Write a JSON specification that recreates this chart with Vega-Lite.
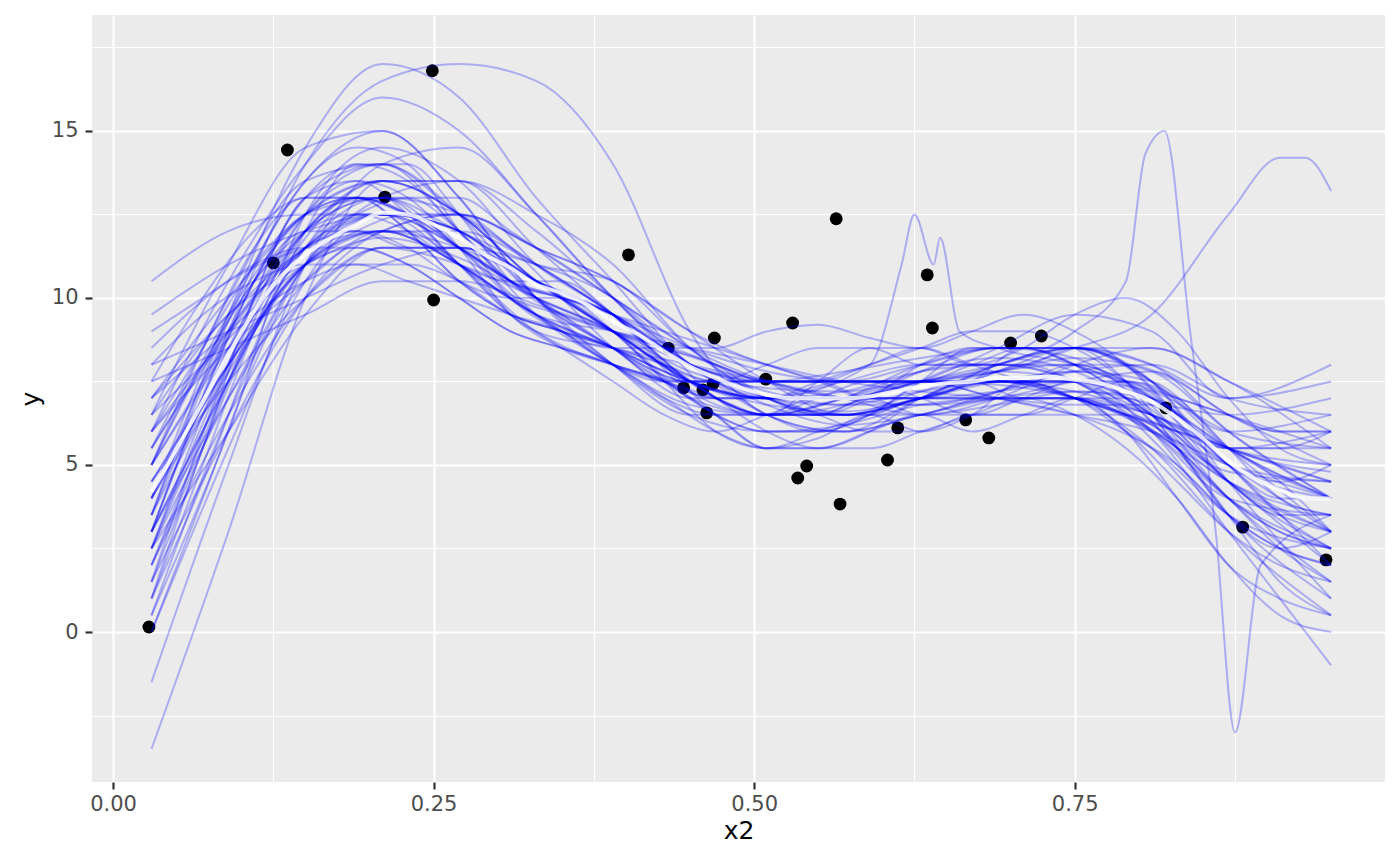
{
  "$schema": "https://vega.github.io/schema/vega-lite/v6.json",
  "width": 1293,
  "height": 767,
  "autosize": "none",
  "padding": {"left": 92, "top": 15, "right": 15, "bottom": 84},
  "background": "white",
  "config": {
    "view": {"fill": "#EBEBEB", "stroke": null},
    "font": "DejaVu Sans",
    "axis": {
      "domain": false,
      "gridColor": "white",
      "tickColor": "#333333",
      "tickSize": 7,
      "tickWidth": 2.2,
      "labelColor": "#4D4D4D",
      "labelFontSize": 21,
      "labelFont": "DejaVu Sans",
      "labelOverlap": false,
      "titleFont": "DejaVu Sans",
      "titleFontSize": 25,
      "titleFontWeight": "normal",
      "titleColor": "black"
    }
  },
  "datasets": {
    "draws": [
      {"d":1,"x":0.03,"y":2.0},{"d":1,"x":0.09,"y":7.5},{"d":1,"x":0.15,"y":11.8},{"d":1,"x":0.21,"y":13.5},{"d":1,"x":0.27,"y":12.5},{"d":1,"x":0.33,"y":10.5},{"d":1,"x":0.39,"y":9.0},{"d":1,"x":0.45,"y":7.5},{"d":1,"x":0.51,"y":6.8},{"d":1,"x":0.57,"y":6.6},{"d":1,"x":0.63,"y":7.0},{"d":1,"x":0.69,"y":7.5},{"d":1,"x":0.75,"y":7.8},{"d":1,"x":0.81,"y":7.0},{"d":1,"x":0.87,"y":4.5},{"d":1,"x":0.95,"y":2.5},
      {"d":2,"x":0.03,"y":6.5},{"d":2,"x":0.09,"y":9.5},{"d":2,"x":0.15,"y":11.0},{"d":2,"x":0.21,"y":11.8},{"d":2,"x":0.27,"y":11.2},{"d":2,"x":0.33,"y":10.0},{"d":2,"x":0.39,"y":9.0},{"d":2,"x":0.45,"y":7.8},{"d":2,"x":0.51,"y":7.3},{"d":2,"x":0.57,"y":7.2},{"d":2,"x":0.63,"y":7.5},{"d":2,"x":0.69,"y":7.4},{"d":2,"x":0.75,"y":7.0},{"d":2,"x":0.81,"y":6.2},{"d":2,"x":0.87,"y":4.8},{"d":2,"x":0.95,"y":4.5},
      {"d":3,"x":0.03,"y":0.5},{"d":3,"x":0.09,"y":6.0},{"d":3,"x":0.15,"y":12.5},{"d":3,"x":0.21,"y":14.5},{"d":3,"x":0.27,"y":13.5},{"d":3,"x":0.33,"y":11.0},{"d":3,"x":0.39,"y":9.5},{"d":3,"x":0.45,"y":7.2},{"d":3,"x":0.51,"y":6.5},{"d":3,"x":0.57,"y":6.8},{"d":3,"x":0.63,"y":7.8},{"d":3,"x":0.69,"y":8.5},{"d":3,"x":0.75,"y":8.2},{"d":3,"x":0.81,"y":6.5},{"d":3,"x":0.87,"y":3.5},{"d":3,"x":0.95,"y":1.0},
      {"d":4,"x":0.03,"y":8.5},{"d":4,"x":0.09,"y":10.5},{"d":4,"x":0.15,"y":11.5},{"d":4,"x":0.21,"y":12.0},{"d":4,"x":0.27,"y":11.5},{"d":4,"x":0.33,"y":10.5},{"d":4,"x":0.39,"y":9.5},{"d":4,"x":0.45,"y":8.0},{"d":4,"x":0.51,"y":7.5},{"d":4,"x":0.57,"y":7.0},{"d":4,"x":0.63,"y":7.0},{"d":4,"x":0.69,"y":7.2},{"d":4,"x":0.75,"y":7.5},{"d":4,"x":0.81,"y":7.2},{"d":4,"x":0.87,"y":6.0},{"d":4,"x":0.95,"y":5.5},
      {"d":5,"x":0.03,"y":-1.5},{"d":5,"x":0.09,"y":5.0},{"d":5,"x":0.15,"y":11.0},{"d":5,"x":0.21,"y":14.0},{"d":5,"x":0.27,"y":14.5},{"d":5,"x":0.33,"y":12.5},{"d":5,"x":0.39,"y":10.0},{"d":5,"x":0.45,"y":8.0},{"d":5,"x":0.51,"y":6.8},{"d":5,"x":0.57,"y":6.2},{"d":5,"x":0.63,"y":6.5},{"d":5,"x":0.69,"y":7.2},{"d":5,"x":0.75,"y":7.8},{"d":5,"x":0.81,"y":7.5},{"d":5,"x":0.87,"y":5.5},{"d":5,"x":0.95,"y":3.0},
      {"d":6,"x":0.03,"y":4.0},{"d":6,"x":0.09,"y":9.5},{"d":6,"x":0.15,"y":13.5},{"d":6,"x":0.21,"y":15.0},{"d":6,"x":0.27,"y":13.0},{"d":6,"x":0.33,"y":10.0},{"d":6,"x":0.39,"y":8.5},{"d":6,"x":0.45,"y":7.0},{"d":6,"x":0.51,"y":7.0},{"d":6,"x":0.57,"y":7.5},{"d":6,"x":0.63,"y":8.0},{"d":6,"x":0.69,"y":8.0},{"d":6,"x":0.75,"y":7.5},{"d":6,"x":0.81,"y":6.0},{"d":6,"x":0.87,"y":4.0},{"d":6,"x":0.95,"y":3.5},
      {"d":7,"x":0.03,"y":3.0},{"d":7,"x":0.09,"y":7.0},{"d":7,"x":0.15,"y":10.5},{"d":7,"x":0.21,"y":12.0},{"d":7,"x":0.27,"y":12.5},{"d":7,"x":0.33,"y":11.5},{"d":7,"x":0.39,"y":10.0},{"d":7,"x":0.45,"y":8.5},{"d":7,"x":0.51,"y":7.5},{"d":7,"x":0.57,"y":7.0},{"d":7,"x":0.63,"y":6.8},{"d":7,"x":0.69,"y":7.0},{"d":7,"x":0.75,"y":7.5},{"d":7,"x":0.81,"y":7.8},{"d":7,"x":0.87,"y":6.5},{"d":7,"x":0.95,"y":5.0},
      {"d":8,"x":0.03,"y":7.5},{"d":8,"x":0.09,"y":8.5},{"d":8,"x":0.15,"y":9.5},{"d":8,"x":0.21,"y":10.5},{"d":8,"x":0.27,"y":10.5},{"d":8,"x":0.33,"y":9.8},{"d":8,"x":0.39,"y":9.0},{"d":8,"x":0.45,"y":8.0},{"d":8,"x":0.51,"y":7.2},{"d":8,"x":0.57,"y":6.8},{"d":8,"x":0.63,"y":6.8},{"d":8,"x":0.69,"y":7.2},{"d":8,"x":0.75,"y":7.8},{"d":8,"x":0.81,"y":8.0},{"d":8,"x":0.87,"y":7.0},{"d":8,"x":0.95,"y":6.5},
      {"d":9,"x":0.03,"y":1.5},{"d":9,"x":0.09,"y":8.0},{"d":9,"x":0.15,"y":13.0},{"d":9,"x":0.21,"y":14.0},{"d":9,"x":0.27,"y":12.0},{"d":9,"x":0.33,"y":9.5},{"d":9,"x":0.39,"y":8.0},{"d":9,"x":0.45,"y":6.8},{"d":9,"x":0.51,"y":6.5},{"d":9,"x":0.57,"y":7.0},{"d":9,"x":0.63,"y":7.8},{"d":9,"x":0.69,"y":8.2},{"d":9,"x":0.75,"y":7.8},{"d":9,"x":0.81,"y":6.5},{"d":9,"x":0.87,"y":4.5},{"d":9,"x":0.95,"y":2.0},
      {"d":10,"x":0.03,"y":5.5},{"d":10,"x":0.09,"y":9.0},{"d":10,"x":0.15,"y":12.0},{"d":10,"x":0.21,"y":13.0},{"d":10,"x":0.27,"y":12.0},{"d":10,"x":0.33,"y":11.0},{"d":10,"x":0.39,"y":10.5},{"d":10,"x":0.45,"y":8.5},{"d":10,"x":0.51,"y":7.0},{"d":10,"x":0.57,"y":6.5},{"d":10,"x":0.63,"y":7.0},{"d":10,"x":0.69,"y":7.8},{"d":10,"x":0.75,"y":8.5},{"d":10,"x":0.81,"y":7.5},{"d":10,"x":0.87,"y":5.0},{"d":10,"x":0.95,"y":4.0},
      {"d":11,"x":0.03,"y":-3.5},{"d":11,"x":0.09,"y":3.0},{"d":11,"x":0.15,"y":10.0},{"d":11,"x":0.21,"y":13.5},{"d":11,"x":0.27,"y":13.5},{"d":11,"x":0.33,"y":11.5},{"d":11,"x":0.39,"y":9.5},{"d":11,"x":0.45,"y":7.5},{"d":11,"x":0.51,"y":6.5},{"d":11,"x":0.57,"y":6.5},{"d":11,"x":0.63,"y":7.0},{"d":11,"x":0.69,"y":7.5},{"d":11,"x":0.75,"y":7.5},{"d":11,"x":0.81,"y":6.5},{"d":11,"x":0.87,"y":4.0},{"d":11,"x":0.95,"y":1.5},
      {"d":12,"x":0.03,"y":9.5},{"d":12,"x":0.09,"y":11.0},{"d":12,"x":0.15,"y":12.0},{"d":12,"x":0.21,"y":12.5},{"d":12,"x":0.27,"y":11.5},{"d":12,"x":0.33,"y":10.0},{"d":12,"x":0.39,"y":8.5},{"d":12,"x":0.45,"y":7.5},{"d":12,"x":0.51,"y":7.5},{"d":12,"x":0.57,"y":7.5},{"d":12,"x":0.63,"y":7.5},{"d":12,"x":0.69,"y":7.5},{"d":12,"x":0.75,"y":7.2},{"d":12,"x":0.81,"y":6.5},{"d":12,"x":0.87,"y":5.5},{"d":12,"x":0.95,"y":5.0},
      {"d":13,"x":0.03,"y":3.5},{"d":13,"x":0.09,"y":9.0},{"d":13,"x":0.15,"y":12.5},{"d":13,"x":0.21,"y":13.0},{"d":13,"x":0.27,"y":11.0},{"d":13,"x":0.33,"y":9.0},{"d":13,"x":0.39,"y":8.5},{"d":13,"x":0.45,"y":8.0},{"d":13,"x":0.51,"y":7.5},{"d":13,"x":0.57,"y":7.0},{"d":13,"x":0.63,"y":6.5},{"d":13,"x":0.69,"y":6.8},{"d":13,"x":0.75,"y":7.2},{"d":13,"x":0.81,"y":6.8},{"d":13,"x":0.87,"y":5.5},{"d":13,"x":0.95,"y":4.8},
      {"d":14,"x":0.03,"y":2.5},{"d":14,"x":0.09,"y":7.0},{"d":14,"x":0.15,"y":11.0},{"d":14,"x":0.21,"y":13.0},{"d":14,"x":0.27,"y":13.5},{"d":14,"x":0.33,"y":12.5},{"d":14,"x":0.39,"y":11.0},{"d":14,"x":0.45,"y":8.5},{"d":14,"x":0.51,"y":7.0},{"d":14,"x":0.57,"y":6.5},{"d":14,"x":0.63,"y":7.0},{"d":14,"x":0.69,"y":7.5},{"d":14,"x":0.75,"y":7.5},{"d":14,"x":0.81,"y":6.5},{"d":14,"x":0.87,"y":4.5},{"d":14,"x":0.95,"y":3.0},
      {"d":15,"x":0.03,"y":6.0},{"d":15,"x":0.09,"y":10.5},{"d":15,"x":0.15,"y":14.0},{"d":15,"x":0.21,"y":16.0},{"d":15,"x":0.27,"y":15.0},{"d":15,"x":0.33,"y":12.5},{"d":15,"x":0.39,"y":10.0},{"d":15,"x":0.45,"y":8.0},{"d":15,"x":0.51,"y":7.5},{"d":15,"x":0.57,"y":7.5},{"d":15,"x":0.63,"y":8.0},{"d":15,"x":0.69,"y":8.5},{"d":15,"x":0.75,"y":8.5},{"d":15,"x":0.81,"y":7.5},{"d":15,"x":0.87,"y":6.0},{"d":15,"x":0.95,"y":6.5},
      {"d":16,"x":0.03,"y":0.0},{"d":16,"x":0.09,"y":5.5},{"d":16,"x":0.15,"y":10.5},{"d":16,"x":0.21,"y":12.5},{"d":16,"x":0.27,"y":12.0},{"d":16,"x":0.33,"y":10.5},{"d":16,"x":0.39,"y":9.5},{"d":16,"x":0.45,"y":8.0},{"d":16,"x":0.51,"y":7.0},{"d":16,"x":0.57,"y":6.8},{"d":16,"x":0.63,"y":7.2},{"d":16,"x":0.69,"y":7.5},{"d":16,"x":0.75,"y":7.0},{"d":16,"x":0.81,"y":5.5},{"d":16,"x":0.87,"y":3.0},{"d":16,"x":0.95,"y":0.5},
      {"d":17,"x":0.03,"y":4.5},{"d":17,"x":0.09,"y":8.0},{"d":17,"x":0.15,"y":11.0},{"d":17,"x":0.21,"y":12.5},{"d":17,"x":0.27,"y":12.0},{"d":17,"x":0.33,"y":10.0},{"d":17,"x":0.39,"y":8.0},{"d":17,"x":0.45,"y":6.5},{"d":17,"x":0.51,"y":6.0},{"d":17,"x":0.57,"y":6.2},{"d":17,"x":0.63,"y":6.8},{"d":17,"x":0.69,"y":7.0},{"d":17,"x":0.75,"y":7.0},{"d":17,"x":0.81,"y":6.5},{"d":17,"x":0.87,"y":5.5},{"d":17,"x":0.95,"y":4.5},
      {"d":18,"x":0.03,"y":7.0},{"d":18,"x":0.09,"y":9.5},{"d":18,"x":0.15,"y":11.5},{"d":18,"x":0.21,"y":12.5},{"d":18,"x":0.27,"y":12.5},{"d":18,"x":0.33,"y":11.5},{"d":18,"x":0.39,"y":10.5},{"d":18,"x":0.45,"y":9.0},{"d":18,"x":0.51,"y":8.0},{"d":18,"x":0.57,"y":7.5},{"d":18,"x":0.63,"y":7.5},{"d":18,"x":0.69,"y":7.8},{"d":18,"x":0.75,"y":8.2},{"d":18,"x":0.81,"y":7.8},{"d":18,"x":0.87,"y":6.0},{"d":18,"x":0.95,"y":4.0},
      {"d":19,"x":0.03,"y":2.0},{"d":19,"x":0.09,"y":6.5},{"d":19,"x":0.15,"y":10.0},{"d":19,"x":0.21,"y":11.5},{"d":19,"x":0.27,"y":11.0},{"d":19,"x":0.33,"y":10.0},{"d":19,"x":0.39,"y":9.0},{"d":19,"x":0.45,"y":7.5},{"d":19,"x":0.51,"y":7.0},{"d":19,"x":0.57,"y":7.2},{"d":19,"x":0.63,"y":7.8},{"d":19,"x":0.69,"y":8.0},{"d":19,"x":0.75,"y":7.5},{"d":19,"x":0.81,"y":6.2},{"d":19,"x":0.87,"y":4.5},{"d":19,"x":0.95,"y":3.5},
      {"d":20,"x":0.03,"y":5.0},{"d":20,"x":0.09,"y":10.0},{"d":20,"x":0.15,"y":13.5},{"d":20,"x":0.21,"y":14.0},{"d":20,"x":0.27,"y":12.5},{"d":20,"x":0.33,"y":11.0},{"d":20,"x":0.39,"y":9.5},{"d":20,"x":0.45,"y":7.5},{"d":20,"x":0.51,"y":6.5},{"d":20,"x":0.57,"y":6.5},{"d":20,"x":0.63,"y":7.2},{"d":20,"x":0.69,"y":7.8},{"d":20,"x":0.75,"y":8.0},{"d":20,"x":0.81,"y":7.0},{"d":20,"x":0.87,"y":5.0},{"d":20,"x":0.95,"y":4.5},
      {"d":21,"x":0.03,"y":3.0},{"d":21,"x":0.09,"y":8.5},{"d":21,"x":0.15,"y":12.0},{"d":21,"x":0.21,"y":13.5},{"d":21,"x":0.27,"y":12.5},{"d":21,"x":0.33,"y":10.5},{"d":21,"x":0.39,"y":9.0},{"d":21,"x":0.45,"y":7.5},{"d":21,"x":0.51,"y":7.0},{"d":21,"x":0.57,"y":7.0},{"d":21,"x":0.63,"y":7.5},{"d":21,"x":0.69,"y":8.5},{"d":21,"x":0.75,"y":9.5},{"d":21,"x":0.81,"y":9.0},{"d":21,"x":0.87,"y":7.0},{"d":21,"x":0.95,"y":7.5},
      {"d":22,"x":0.03,"y":8.0},{"d":22,"x":0.09,"y":9.0},{"d":22,"x":0.15,"y":10.0},{"d":22,"x":0.21,"y":11.0},{"d":22,"x":0.27,"y":11.5},{"d":22,"x":0.33,"y":11.0},{"d":22,"x":0.39,"y":10.0},{"d":22,"x":0.45,"y":8.0},{"d":22,"x":0.51,"y":6.5},{"d":22,"x":0.57,"y":6.0},{"d":22,"x":0.63,"y":6.5},{"d":22,"x":0.69,"y":7.0},{"d":22,"x":0.75,"y":7.0},{"d":22,"x":0.81,"y":6.0},{"d":22,"x":0.87,"y":4.5},{"d":22,"x":0.95,"y":3.0},
      {"d":23,"x":0.03,"y":1.0},{"d":23,"x":0.09,"y":7.5},{"d":23,"x":0.15,"y":12.0},{"d":23,"x":0.21,"y":13.0},{"d":23,"x":0.27,"y":11.5},{"d":23,"x":0.33,"y":9.5},{"d":23,"x":0.39,"y":8.5},{"d":23,"x":0.45,"y":7.5},{"d":23,"x":0.51,"y":7.0},{"d":23,"x":0.57,"y":7.0},{"d":23,"x":0.63,"y":7.5},{"d":23,"x":0.69,"y":7.5},{"d":23,"x":0.75,"y":7.0},{"d":23,"x":0.81,"y":6.0},{"d":23,"x":0.87,"y":4.0},{"d":23,"x":0.95,"y":2.5},
      {"d":24,"x":0.03,"y":6.0},{"d":24,"x":0.09,"y":8.5},{"d":24,"x":0.15,"y":10.5},{"d":24,"x":0.21,"y":12.0},{"d":24,"x":0.27,"y":12.0},{"d":24,"x":0.33,"y":11.0},{"d":24,"x":0.39,"y":9.5},{"d":24,"x":0.45,"y":8.0},{"d":24,"x":0.51,"y":7.5},{"d":24,"x":0.57,"y":7.5},{"d":24,"x":0.63,"y":7.5},{"d":24,"x":0.69,"y":7.0},{"d":24,"x":0.75,"y":6.5},{"d":24,"x":0.81,"y":6.0},{"d":24,"x":0.87,"y":5.0},{"d":24,"x":0.95,"y":4.0},
      {"d":25,"x":0.03,"y":3.5},{"d":25,"x":0.09,"y":9.5},{"d":25,"x":0.15,"y":14.5},{"d":25,"x":0.21,"y":17.0},{"d":25,"x":0.27,"y":16.0},{"d":25,"x":0.33,"y":13.0},{"d":25,"x":0.39,"y":10.5},{"d":25,"x":0.45,"y":8.0},{"d":25,"x":0.51,"y":7.0},{"d":25,"x":0.57,"y":7.0},{"d":25,"x":0.63,"y":7.5},{"d":25,"x":0.69,"y":7.8},{"d":25,"x":0.75,"y":7.5},{"d":25,"x":0.81,"y":6.5},{"d":25,"x":0.87,"y":5.5},{"d":25,"x":0.95,"y":6.0},
      {"d":26,"x":0.03,"y":2.5},{"d":26,"x":0.09,"y":6.0},{"d":26,"x":0.15,"y":9.5},{"d":26,"x":0.21,"y":11.5},{"d":26,"x":0.27,"y":11.5},{"d":26,"x":0.33,"y":10.5},{"d":26,"x":0.39,"y":9.0},{"d":26,"x":0.45,"y":7.0},{"d":26,"x":0.51,"y":6.0},{"d":26,"x":0.57,"y":6.0},{"d":26,"x":0.63,"y":6.5},{"d":26,"x":0.69,"y":7.0},{"d":26,"x":0.75,"y":7.2},{"d":26,"x":0.81,"y":7.0},{"d":26,"x":0.87,"y":5.0},{"d":26,"x":0.95,"y":2.0},
      {"d":27,"x":0.03,"y":10.5},{"d":27,"x":0.09,"y":12.0},{"d":27,"x":0.15,"y":12.5},{"d":27,"x":0.21,"y":12.5},{"d":27,"x":0.27,"y":11.0},{"d":27,"x":0.33,"y":9.0},{"d":27,"x":0.39,"y":8.0},{"d":27,"x":0.45,"y":7.5},{"d":27,"x":0.51,"y":7.5},{"d":27,"x":0.57,"y":7.8},{"d":27,"x":0.63,"y":8.2},{"d":27,"x":0.69,"y":8.5},{"d":27,"x":0.75,"y":8.5},{"d":27,"x":0.81,"y":7.5},{"d":27,"x":0.87,"y":5.5},{"d":27,"x":0.95,"y":4.0},
      {"d":28,"x":0.03,"y":4.0},{"d":28,"x":0.09,"y":8.0},{"d":28,"x":0.15,"y":11.0},{"d":28,"x":0.21,"y":12.0},{"d":28,"x":0.27,"y":11.0},{"d":28,"x":0.33,"y":9.5},{"d":28,"x":0.39,"y":9.0},{"d":28,"x":0.45,"y":8.5},{"d":28,"x":0.51,"y":8.0},{"d":28,"x":0.57,"y":7.5},{"d":28,"x":0.63,"y":7.2},{"d":28,"x":0.69,"y":7.0},{"d":28,"x":0.75,"y":6.8},{"d":28,"x":0.81,"y":6.8},{"d":28,"x":0.87,"y":6.5},{"d":28,"x":0.95,"y":7.0},
      {"d":29,"x":0.03,"y":0.5},{"d":29,"x":0.09,"y":6.5},{"d":29,"x":0.15,"y":11.0},{"d":29,"x":0.21,"y":12.5},{"d":29,"x":0.27,"y":12.0},{"d":29,"x":0.33,"y":10.5},{"d":29,"x":0.39,"y":9.5},{"d":29,"x":0.45,"y":8.0},{"d":29,"x":0.51,"y":7.0},{"d":29,"x":0.57,"y":6.5},{"d":29,"x":0.63,"y":7.0},{"d":29,"x":0.69,"y":8.0},{"d":29,"x":0.75,"y":8.5},{"d":29,"x":0.81,"y":7.5},{"d":29,"x":0.87,"y":4.5},{"d":29,"x":0.95,"y":1.0},
      {"d":30,"x":0.03,"y":5.0},{"d":30,"x":0.09,"y":9.5},{"d":30,"x":0.15,"y":12.5},{"d":30,"x":0.21,"y":13.5},{"d":30,"x":0.27,"y":12.5},{"d":30,"x":0.33,"y":10.5},{"d":30,"x":0.39,"y":9.0},{"d":30,"x":0.45,"y":7.0},{"d":30,"x":0.51,"y":6.5},{"d":30,"x":0.57,"y":7.0},{"d":30,"x":0.63,"y":8.0},{"d":30,"x":0.69,"y":8.5},{"d":30,"x":0.75,"y":8.5},{"d":30,"x":0.81,"y":8.0},{"d":30,"x":0.87,"y":7.0},{"d":30,"x":0.95,"y":8.0},
      {"d":31,"x":0.03,"y":2.5},{"d":31,"x":0.09,"y":8.0},{"d":31,"x":0.15,"y":12.5},{"d":31,"x":0.21,"y":14.0},{"d":31,"x":0.27,"y":12.5},{"d":31,"x":0.33,"y":10.0},{"d":31,"x":0.39,"y":8.5},{"d":31,"x":0.45,"y":7.5},{"d":31,"x":0.51,"y":7.5},{"d":31,"x":0.57,"y":7.5},{"d":31,"x":0.63,"y":7.5},{"d":31,"x":0.69,"y":7.0},{"d":31,"x":0.75,"y":6.5},{"d":31,"x":0.81,"y":5.5},{"d":31,"x":0.87,"y":3.5},{"d":31,"x":0.95,"y":2.5},
      {"d":32,"x":0.03,"y":7.0},{"d":32,"x":0.09,"y":10.0},{"d":32,"x":0.15,"y":12.5},{"d":32,"x":0.21,"y":13.5},{"d":32,"x":0.27,"y":13.5},{"d":32,"x":0.33,"y":12.0},{"d":32,"x":0.39,"y":10.0},{"d":32,"x":0.45,"y":8.0},{"d":32,"x":0.51,"y":7.0},{"d":32,"x":0.57,"y":7.0},{"d":32,"x":0.63,"y":7.5},{"d":32,"x":0.69,"y":8.0},{"d":32,"x":0.75,"y":8.5},{"d":32,"x":0.81,"y":8.5},{"d":32,"x":0.87,"y":7.5},{"d":32,"x":0.95,"y":5.5},
      {"d":33,"x":0.03,"y":3.0},{"d":33,"x":0.09,"y":7.5},{"d":33,"x":0.15,"y":11.5},{"d":33,"x":0.21,"y":13.0},{"d":33,"x":0.27,"y":12.5},{"d":33,"x":0.33,"y":11.0},{"d":33,"x":0.39,"y":9.5},{"d":33,"x":0.45,"y":7.5},{"d":33,"x":0.51,"y":6.5},{"d":33,"x":0.57,"y":6.5},{"d":33,"x":0.63,"y":7.0},{"d":33,"x":0.69,"y":7.5},{"d":33,"x":0.75,"y":7.5},{"d":33,"x":0.81,"y":6.0},{"d":33,"x":0.87,"y":3.0},{"d":33,"x":0.95,"y":-1.0},
      {"d":34,"x":0.03,"y":4.5},{"d":34,"x":0.09,"y":7.5},{"d":34,"x":0.15,"y":10.0},{"d":34,"x":0.21,"y":11.5},{"d":34,"x":0.27,"y":11.5},{"d":34,"x":0.33,"y":10.5},{"d":34,"x":0.39,"y":9.5},{"d":34,"x":0.45,"y":8.5},{"d":34,"x":0.51,"y":7.8},{"d":34,"x":0.57,"y":7.5},{"d":34,"x":0.63,"y":7.5},{"d":34,"x":0.69,"y":7.5},{"d":34,"x":0.75,"y":7.5},{"d":34,"x":0.81,"y":7.0},{"d":34,"x":0.87,"y":5.5},{"d":34,"x":0.95,"y":4.0},
      {"d":35,"x":0.03,"y":6.5},{"d":35,"x":0.09,"y":11.0},{"d":35,"x":0.15,"y":14.5},{"d":35,"x":0.21,"y":15.0},{"d":35,"x":0.27,"y":13.0},{"d":35,"x":0.33,"y":10.0},{"d":35,"x":0.39,"y":8.0},{"d":35,"x":0.45,"y":6.5},{"d":35,"x":0.51,"y":6.5},{"d":35,"x":0.57,"y":7.0},{"d":35,"x":0.63,"y":7.5},{"d":35,"x":0.69,"y":7.5},{"d":35,"x":0.75,"y":7.0},{"d":35,"x":0.81,"y":6.5},{"d":35,"x":0.87,"y":5.5},{"d":35,"x":0.95,"y":5.5},
      {"d":36,"x":0.03,"y":1.5},{"d":36,"x":0.09,"y":6.0},{"d":36,"x":0.15,"y":10.0},{"d":36,"x":0.21,"y":12.0},{"d":36,"x":0.27,"y":12.5},{"d":36,"x":0.33,"y":11.5},{"d":36,"x":0.39,"y":10.5},{"d":36,"x":0.45,"y":9.0},{"d":36,"x":0.51,"y":7.5},{"d":36,"x":0.57,"y":6.5},{"d":36,"x":0.63,"y":6.5},{"d":36,"x":0.69,"y":7.0},{"d":36,"x":0.75,"y":8.0},{"d":36,"x":0.81,"y":8.5},{"d":36,"x":0.87,"y":7.5},{"d":36,"x":0.95,"y":6.0},
      {"d":37,"x":0.03,"y":7.0},{"d":37,"x":0.09,"y":9.0},{"d":37,"x":0.15,"y":11.0},{"d":37,"x":0.21,"y":12.0},{"d":37,"x":0.27,"y":11.0},{"d":37,"x":0.33,"y":9.5},{"d":37,"x":0.39,"y":8.5},{"d":37,"x":0.45,"y":7.5},{"d":37,"x":0.51,"y":7.0},{"d":37,"x":0.57,"y":7.5},{"d":37,"x":0.63,"y":7.5},{"d":37,"x":0.69,"y":8.0},{"d":37,"x":0.75,"y":9.0},{"d":37,"x":0.79,"y":10.5},{"d":37,"x":0.805,"y":14.3},{"d":37,"x":0.82,"y":15.0},{"d":37,"x":0.84,"y":9.0},{"d":37,"x":0.86,"y":3.0},{"d":37,"x":0.875,"y":-3.0},{"d":37,"x":0.895,"y":2.0},{"d":37,"x":0.95,"y":3.5},
      {"d":38,"x":0.03,"y":4.0},{"d":38,"x":0.09,"y":8.0},{"d":38,"x":0.15,"y":11.0},{"d":38,"x":0.21,"y":12.0},{"d":38,"x":0.27,"y":11.0},{"d":38,"x":0.33,"y":9.5},{"d":38,"x":0.39,"y":8.5},{"d":38,"x":0.45,"y":7.5},{"d":38,"x":0.51,"y":7.0},{"d":38,"x":0.59,"y":8.0},{"d":38,"x":0.615,"y":11.0},{"d":38,"x":0.625,"y":12.5},{"d":38,"x":0.64,"y":11.0},{"d":38,"x":0.645,"y":11.8},{"d":38,"x":0.66,"y":9.0},{"d":38,"x":0.69,"y":8.5},{"d":38,"x":0.75,"y":8.0},{"d":38,"x":0.81,"y":7.0},{"d":38,"x":0.87,"y":5.5},{"d":38,"x":0.95,"y":4.0},
      {"d":39,"x":0.03,"y":5.0},{"d":39,"x":0.09,"y":8.5},{"d":39,"x":0.15,"y":11.5},{"d":39,"x":0.21,"y":12.5},{"d":39,"x":0.27,"y":11.5},{"d":39,"x":0.33,"y":10.0},{"d":39,"x":0.39,"y":9.0},{"d":39,"x":0.45,"y":7.5},{"d":39,"x":0.51,"y":7.0},{"d":39,"x":0.57,"y":7.0},{"d":39,"x":0.63,"y":7.5},{"d":39,"x":0.69,"y":7.8},{"d":39,"x":0.75,"y":8.5},{"d":39,"x":0.81,"y":9.5},{"d":39,"x":0.87,"y":12.5},{"d":39,"x":0.91,"y":14.2},{"d":39,"x":0.93,"y":14.2},{"d":39,"x":0.95,"y":13.2},
      {"d":40,"x":0.03,"y":3.0},{"d":40,"x":0.09,"y":9.0},{"d":40,"x":0.15,"y":14.0},{"d":40,"x":0.21,"y":16.5},{"d":40,"x":0.27,"y":17.0},{"d":40,"x":0.33,"y":16.5},{"d":40,"x":0.39,"y":14.0},{"d":40,"x":0.45,"y":9.0},{"d":40,"x":0.51,"y":6.5},{"d":40,"x":0.57,"y":6.0},{"d":40,"x":0.63,"y":7.0},{"d":40,"x":0.69,"y":8.0},{"d":40,"x":0.75,"y":8.5},{"d":40,"x":0.81,"y":8.0},{"d":40,"x":0.87,"y":6.0},{"d":40,"x":0.95,"y":4.0},
      {"d":41,"x":0.03,"y":3.0},{"d":41,"x":0.07,"y":6.0},{"d":41,"x":0.11,"y":9.0},{"d":41,"x":0.15,"y":11.5},{"d":41,"x":0.19,"y":13.0},{"d":41,"x":0.23,"y":13.0},{"d":41,"x":0.27,"y":12.0},{"d":41,"x":0.31,"y":10.5},{"d":41,"x":0.35,"y":10.0},{"d":41,"x":0.39,"y":9.5},{"d":41,"x":0.43,"y":8.0},{"d":41,"x":0.47,"y":6.5},{"d":41,"x":0.51,"y":5.5},{"d":41,"x":0.55,"y":5.8},{"d":41,"x":0.59,"y":6.5},{"d":41,"x":0.63,"y":6.0},{"d":41,"x":0.67,"y":6.5},{"d":41,"x":0.71,"y":7.5},{"d":41,"x":0.75,"y":7.0},{"d":41,"x":0.79,"y":6.0},{"d":41,"x":0.83,"y":5.0},{"d":41,"x":0.87,"y":3.5},{"d":41,"x":0.91,"y":2.5},{"d":41,"x":0.95,"y":2.0},
      {"d":42,"x":0.03,"y":5.5},{"d":42,"x":0.07,"y":8.0},{"d":42,"x":0.11,"y":10.5},{"d":42,"x":0.15,"y":12.0},{"d":42,"x":0.19,"y":12.5},{"d":42,"x":0.23,"y":12.0},{"d":42,"x":0.27,"y":11.0},{"d":42,"x":0.31,"y":10.5},{"d":42,"x":0.35,"y":10.5},{"d":42,"x":0.39,"y":9.5},{"d":42,"x":0.43,"y":8.5},{"d":42,"x":0.47,"y":8.5},{"d":42,"x":0.51,"y":9.0},{"d":42,"x":0.55,"y":9.2},{"d":42,"x":0.59,"y":8.8},{"d":42,"x":0.63,"y":8.5},{"d":42,"x":0.67,"y":9.0},{"d":42,"x":0.71,"y":9.5},{"d":42,"x":0.75,"y":9.0},{"d":42,"x":0.79,"y":8.0},{"d":42,"x":0.83,"y":6.5},{"d":42,"x":0.87,"y":5.5},{"d":42,"x":0.91,"y":5.5},{"d":42,"x":0.95,"y":6.0},
      {"d":43,"x":0.03,"y":2.0},{"d":43,"x":0.07,"y":5.5},{"d":43,"x":0.11,"y":9.0},{"d":43,"x":0.15,"y":11.0},{"d":43,"x":0.19,"y":11.5},{"d":43,"x":0.23,"y":11.0},{"d":43,"x":0.27,"y":10.0},{"d":43,"x":0.31,"y":9.0},{"d":43,"x":0.35,"y":8.5},{"d":43,"x":0.39,"y":8.0},{"d":43,"x":0.43,"y":7.0},{"d":43,"x":0.47,"y":6.0},{"d":43,"x":0.51,"y":5.5},{"d":43,"x":0.55,"y":5.5},{"d":43,"x":0.59,"y":6.0},{"d":43,"x":0.63,"y":6.5},{"d":43,"x":0.67,"y":6.0},{"d":43,"x":0.71,"y":6.5},{"d":43,"x":0.75,"y":7.0},{"d":43,"x":0.79,"y":6.0},{"d":43,"x":0.83,"y":4.0},{"d":43,"x":0.87,"y":2.0},{"d":43,"x":0.91,"y":1.0},{"d":43,"x":0.95,"y":0.5},
      {"d":44,"x":0.03,"y":6.0},{"d":44,"x":0.07,"y":8.5},{"d":44,"x":0.11,"y":11.0},{"d":44,"x":0.15,"y":12.5},{"d":44,"x":0.19,"y":13.0},{"d":44,"x":0.23,"y":12.0},{"d":44,"x":0.27,"y":10.5},{"d":44,"x":0.31,"y":9.5},{"d":44,"x":0.35,"y":9.0},{"d":44,"x":0.39,"y":8.5},{"d":44,"x":0.43,"y":7.5},{"d":44,"x":0.47,"y":7.5},{"d":44,"x":0.51,"y":8.0},{"d":44,"x":0.55,"y":8.5},{"d":44,"x":0.59,"y":8.5},{"d":44,"x":0.63,"y":8.0},{"d":44,"x":0.67,"y":8.0},{"d":44,"x":0.71,"y":8.5},{"d":44,"x":0.75,"y":9.5},{"d":44,"x":0.79,"y":10.0},{"d":44,"x":0.83,"y":9.0},{"d":44,"x":0.87,"y":7.0},{"d":44,"x":0.91,"y":5.5},{"d":44,"x":0.95,"y":5.0},
      {"d":45,"x":0.03,"y":1.0},{"d":45,"x":0.07,"y":4.5},{"d":45,"x":0.11,"y":8.5},{"d":45,"x":0.15,"y":12.0},{"d":45,"x":0.19,"y":14.0},{"d":45,"x":0.23,"y":14.0},{"d":45,"x":0.27,"y":12.5},{"d":45,"x":0.31,"y":10.5},{"d":45,"x":0.35,"y":9.5},{"d":45,"x":0.39,"y":9.0},{"d":45,"x":0.43,"y":8.5},{"d":45,"x":0.47,"y":7.5},{"d":45,"x":0.51,"y":6.5},{"d":45,"x":0.55,"y":6.0},{"d":45,"x":0.59,"y":6.5},{"d":45,"x":0.63,"y":7.5},{"d":45,"x":0.67,"y":8.5},{"d":45,"x":0.71,"y":8.5},{"d":45,"x":0.75,"y":8.0},{"d":45,"x":0.79,"y":7.0},{"d":45,"x":0.83,"y":5.5},{"d":45,"x":0.87,"y":4.0},{"d":45,"x":0.91,"y":3.0},{"d":45,"x":0.95,"y":2.5},
      {"d":46,"x":0.03,"y":8.0},{"d":46,"x":0.07,"y":9.5},{"d":46,"x":0.11,"y":10.5},{"d":46,"x":0.15,"y":11.0},{"d":46,"x":0.19,"y":11.0},{"d":46,"x":0.23,"y":10.5},{"d":46,"x":0.27,"y":10.0},{"d":46,"x":0.31,"y":9.5},{"d":46,"x":0.35,"y":9.0},{"d":46,"x":0.39,"y":8.0},{"d":46,"x":0.43,"y":7.0},{"d":46,"x":0.47,"y":6.5},{"d":46,"x":0.51,"y":6.5},{"d":46,"x":0.55,"y":7.0},{"d":46,"x":0.59,"y":7.5},{"d":46,"x":0.63,"y":7.0},{"d":46,"x":0.67,"y":6.5},{"d":46,"x":0.71,"y":6.5},{"d":46,"x":0.75,"y":7.0},{"d":46,"x":0.79,"y":7.5},{"d":46,"x":0.83,"y":7.0},{"d":46,"x":0.87,"y":5.5},{"d":46,"x":0.91,"y":4.0},{"d":46,"x":0.95,"y":3.5},
      {"d":47,"x":0.03,"y":4.0},{"d":47,"x":0.07,"y":7.5},{"d":47,"x":0.11,"y":11.0},{"d":47,"x":0.15,"y":13.5},{"d":47,"x":0.19,"y":14.5},{"d":47,"x":0.23,"y":14.0},{"d":47,"x":0.27,"y":12.0},{"d":47,"x":0.31,"y":10.0},{"d":47,"x":0.35,"y":9.0},{"d":47,"x":0.39,"y":8.5},{"d":47,"x":0.43,"y":8.5},{"d":47,"x":0.47,"y":8.0},{"d":47,"x":0.51,"y":7.5},{"d":47,"x":0.55,"y":7.5},{"d":47,"x":0.59,"y":8.0},{"d":47,"x":0.63,"y":8.5},{"d":47,"x":0.67,"y":8.0},{"d":47,"x":0.71,"y":7.5},{"d":47,"x":0.75,"y":7.0},{"d":47,"x":0.79,"y":6.5},{"d":47,"x":0.83,"y":6.0},{"d":47,"x":0.87,"y":5.0},{"d":47,"x":0.91,"y":4.0},{"d":47,"x":0.95,"y":3.0},
      {"d":48,"x":0.03,"y":3.5},{"d":48,"x":0.07,"y":6.5},{"d":48,"x":0.11,"y":9.5},{"d":48,"x":0.15,"y":11.5},{"d":48,"x":0.19,"y":12.0},{"d":48,"x":0.23,"y":11.5},{"d":48,"x":0.27,"y":10.5},{"d":48,"x":0.31,"y":10.0},{"d":48,"x":0.35,"y":10.0},{"d":48,"x":0.39,"y":9.0},{"d":48,"x":0.43,"y":7.5},{"d":48,"x":0.47,"y":6.0},{"d":48,"x":0.51,"y":5.5},{"d":48,"x":0.55,"y":6.0},{"d":48,"x":0.59,"y":6.5},{"d":48,"x":0.63,"y":7.0},{"d":48,"x":0.67,"y":7.5},{"d":48,"x":0.71,"y":7.5},{"d":48,"x":0.75,"y":7.0},{"d":48,"x":0.79,"y":6.5},{"d":48,"x":0.83,"y":6.0},{"d":48,"x":0.87,"y":5.5},{"d":48,"x":0.91,"y":4.5},{"d":48,"x":0.95,"y":3.0},
      {"d":49,"x":0.03,"y":5.0},{"d":49,"x":0.07,"y":8.0},{"d":49,"x":0.11,"y":10.5},{"d":49,"x":0.15,"y":12.0},{"d":49,"x":0.19,"y":12.0},{"d":49,"x":0.23,"y":11.5},{"d":49,"x":0.27,"y":11.5},{"d":49,"x":0.31,"y":11.0},{"d":49,"x":0.35,"y":10.0},{"d":49,"x":0.39,"y":9.0},{"d":49,"x":0.43,"y":8.0},{"d":49,"x":0.47,"y":7.5},{"d":49,"x":0.51,"y":7.5},{"d":49,"x":0.55,"y":7.5},{"d":49,"x":0.59,"y":7.0},{"d":49,"x":0.63,"y":7.0},{"d":49,"x":0.67,"y":7.5},{"d":49,"x":0.71,"y":8.5},{"d":49,"x":0.75,"y":8.5},{"d":49,"x":0.79,"y":7.5},{"d":49,"x":0.83,"y":5.5},{"d":49,"x":0.87,"y":3.5},{"d":49,"x":0.91,"y":2.5},{"d":49,"x":0.95,"y":3.0},
      {"d":50,"x":0.03,"y":0.0},{"d":50,"x":0.07,"y":4.0},{"d":50,"x":0.11,"y":8.0},{"d":50,"x":0.15,"y":11.0},{"d":50,"x":0.19,"y":12.5},{"d":50,"x":0.23,"y":12.5},{"d":50,"x":0.27,"y":11.5},{"d":50,"x":0.31,"y":10.0},{"d":50,"x":0.35,"y":9.0},{"d":50,"x":0.39,"y":8.0},{"d":50,"x":0.43,"y":7.5},{"d":50,"x":0.47,"y":7.5},{"d":50,"x":0.51,"y":7.0},{"d":50,"x":0.55,"y":6.5},{"d":50,"x":0.59,"y":6.5},{"d":50,"x":0.63,"y":7.0},{"d":50,"x":0.67,"y":7.0},{"d":50,"x":0.71,"y":7.0},{"d":50,"x":0.75,"y":6.5},{"d":50,"x":0.79,"y":5.5},{"d":50,"x":0.83,"y":4.0},{"d":50,"x":0.87,"y":2.0},{"d":50,"x":0.91,"y":0.5},{"d":50,"x":0.95,"y":0.0},
      {"d":51,"x":0.03,"y":7.5},{"d":51,"x":0.07,"y":10.0},{"d":51,"x":0.11,"y":12.0},{"d":51,"x":0.15,"y":13.0},{"d":51,"x":0.19,"y":13.0},{"d":51,"x":0.23,"y":12.5},{"d":51,"x":0.27,"y":12.0},{"d":51,"x":0.31,"y":11.0},{"d":51,"x":0.35,"y":10.0},{"d":51,"x":0.39,"y":9.0},{"d":51,"x":0.43,"y":8.5},{"d":51,"x":0.47,"y":8.0},{"d":51,"x":0.51,"y":7.0},{"d":51,"x":0.55,"y":6.5},{"d":51,"x":0.59,"y":7.0},{"d":51,"x":0.63,"y":8.0},{"d":51,"x":0.67,"y":8.5},{"d":51,"x":0.71,"y":8.5},{"d":51,"x":0.75,"y":8.0},{"d":51,"x":0.79,"y":7.5},{"d":51,"x":0.83,"y":7.0},{"d":51,"x":0.87,"y":6.5},{"d":51,"x":0.91,"y":6.0},{"d":51,"x":0.95,"y":5.5},
      {"d":52,"x":0.03,"y":2.5},{"d":52,"x":0.07,"y":6.0},{"d":52,"x":0.11,"y":9.5},{"d":52,"x":0.15,"y":12.0},{"d":52,"x":0.19,"y":13.0},{"d":52,"x":0.23,"y":12.5},{"d":52,"x":0.27,"y":11.0},{"d":52,"x":0.31,"y":9.5},{"d":52,"x":0.35,"y":8.5},{"d":52,"x":0.39,"y":7.5},{"d":52,"x":0.43,"y":6.5},{"d":52,"x":0.47,"y":6.0},{"d":52,"x":0.51,"y":6.5},{"d":52,"x":0.55,"y":7.0},{"d":52,"x":0.59,"y":7.0},{"d":52,"x":0.63,"y":6.5},{"d":52,"x":0.67,"y":6.5},{"d":52,"x":0.71,"y":7.0},{"d":52,"x":0.75,"y":7.5},{"d":52,"x":0.79,"y":7.5},{"d":52,"x":0.83,"y":6.5},{"d":52,"x":0.87,"y":5.0},{"d":52,"x":0.91,"y":3.5},{"d":52,"x":0.95,"y":2.5},
      {"d":53,"x":0.03,"y":4.5},{"d":53,"x":0.07,"y":7.0},{"d":53,"x":0.11,"y":9.5},{"d":53,"x":0.15,"y":11.5},{"d":53,"x":0.19,"y":12.5},{"d":53,"x":0.23,"y":13.0},{"d":53,"x":0.27,"y":13.0},{"d":53,"x":0.31,"y":12.0},{"d":53,"x":0.35,"y":11.0},{"d":53,"x":0.39,"y":10.0},{"d":53,"x":0.43,"y":9.0},{"d":53,"x":0.47,"y":8.0},{"d":53,"x":0.51,"y":7.5},{"d":53,"x":0.55,"y":7.0},{"d":53,"x":0.59,"y":7.0},{"d":53,"x":0.63,"y":7.5},{"d":53,"x":0.67,"y":7.5},{"d":53,"x":0.71,"y":7.0},{"d":53,"x":0.75,"y":7.0},{"d":53,"x":0.79,"y":7.0},{"d":53,"x":0.83,"y":6.0},{"d":53,"x":0.87,"y":4.5},{"d":53,"x":0.91,"y":3.5},{"d":53,"x":0.95,"y":3.5},
      {"d":54,"x":0.03,"y":6.5},{"d":54,"x":0.07,"y":8.0},{"d":54,"x":0.11,"y":9.5},{"d":54,"x":0.15,"y":10.5},{"d":54,"x":0.19,"y":11.0},{"d":54,"x":0.23,"y":11.0},{"d":54,"x":0.27,"y":10.5},{"d":54,"x":0.31,"y":9.5},{"d":54,"x":0.35,"y":9.0},{"d":54,"x":0.39,"y":8.5},{"d":54,"x":0.43,"y":8.0},{"d":54,"x":0.47,"y":7.0},{"d":54,"x":0.51,"y":6.0},{"d":54,"x":0.55,"y":5.5},{"d":54,"x":0.59,"y":5.5},{"d":54,"x":0.63,"y":6.0},{"d":54,"x":0.67,"y":6.5},{"d":54,"x":0.71,"y":7.0},{"d":54,"x":0.75,"y":7.0},{"d":54,"x":0.79,"y":6.0},{"d":54,"x":0.83,"y":4.5},{"d":54,"x":0.87,"y":3.0},{"d":54,"x":0.91,"y":2.0},{"d":54,"x":0.95,"y":1.5},
      {"d":55,"x":0.03,"y":3.0},{"d":55,"x":0.07,"y":7.0},{"d":55,"x":0.11,"y":10.5},{"d":55,"x":0.15,"y":13.0},{"d":55,"x":0.19,"y":14.0},{"d":55,"x":0.23,"y":13.5},{"d":55,"x":0.27,"y":12.0},{"d":55,"x":0.31,"y":10.5},{"d":55,"x":0.35,"y":10.0},{"d":55,"x":0.39,"y":9.5},{"d":55,"x":0.43,"y":8.5},{"d":55,"x":0.47,"y":7.0},{"d":55,"x":0.51,"y":6.5},{"d":55,"x":0.55,"y":7.5},{"d":55,"x":0.59,"y":8.5},{"d":55,"x":0.63,"y":8.5},{"d":55,"x":0.67,"y":8.0},{"d":55,"x":0.71,"y":8.0},{"d":55,"x":0.75,"y":8.5},{"d":55,"x":0.79,"y":8.0},{"d":55,"x":0.83,"y":6.5},{"d":55,"x":0.87,"y":5.0},{"d":55,"x":0.91,"y":4.5},{"d":55,"x":0.95,"y":5.0},
      {"d":56,"x":0.03,"y":5.0},{"d":56,"x":0.07,"y":7.5},{"d":56,"x":0.11,"y":10.0},{"d":56,"x":0.15,"y":11.5},{"d":56,"x":0.19,"y":12.0},{"d":56,"x":0.23,"y":12.0},{"d":56,"x":0.27,"y":11.0},{"d":56,"x":0.31,"y":10.0},{"d":56,"x":0.35,"y":9.0},{"d":56,"x":0.39,"y":8.0},{"d":56,"x":0.43,"y":7.5},{"d":56,"x":0.47,"y":7.0},{"d":56,"x":0.51,"y":7.0},{"d":56,"x":0.55,"y":6.5},{"d":56,"x":0.59,"y":6.0},{"d":56,"x":0.63,"y":6.0},{"d":56,"x":0.67,"y":6.5},{"d":56,"x":0.71,"y":6.5},{"d":56,"x":0.75,"y":6.5},{"d":56,"x":0.79,"y":6.5},{"d":56,"x":0.83,"y":6.0},{"d":56,"x":0.87,"y":5.5},{"d":56,"x":0.91,"y":5.0},{"d":56,"x":0.95,"y":4.5},
      {"d":57,"x":0.03,"y":1.5},{"d":57,"x":0.07,"y":5.5},{"d":57,"x":0.11,"y":10.0},{"d":57,"x":0.15,"y":13.0},{"d":57,"x":0.19,"y":13.5},{"d":57,"x":0.23,"y":12.5},{"d":57,"x":0.27,"y":11.0},{"d":57,"x":0.31,"y":10.0},{"d":57,"x":0.35,"y":9.5},{"d":57,"x":0.39,"y":9.0},{"d":57,"x":0.43,"y":8.5},{"d":57,"x":0.47,"y":8.0},{"d":57,"x":0.51,"y":7.5},{"d":57,"x":0.55,"y":7.5},{"d":57,"x":0.59,"y":7.5},{"d":57,"x":0.63,"y":7.5},{"d":57,"x":0.67,"y":8.0},{"d":57,"x":0.71,"y":8.5},{"d":57,"x":0.75,"y":8.0},{"d":57,"x":0.79,"y":7.0},{"d":57,"x":0.83,"y":5.5},{"d":57,"x":0.87,"y":3.5},{"d":57,"x":0.91,"y":1.5},{"d":57,"x":0.95,"y":0.5},
      {"d":58,"x":0.03,"y":9.0},{"d":58,"x":0.07,"y":10.0},{"d":58,"x":0.11,"y":11.0},{"d":58,"x":0.15,"y":11.5},{"d":58,"x":0.19,"y":11.5},{"d":58,"x":0.23,"y":11.0},{"d":58,"x":0.27,"y":10.0},{"d":58,"x":0.31,"y":9.0},{"d":58,"x":0.35,"y":8.5},{"d":58,"x":0.39,"y":8.0},{"d":58,"x":0.43,"y":7.5},{"d":58,"x":0.47,"y":7.0},{"d":58,"x":0.51,"y":6.5},{"d":58,"x":0.55,"y":6.5},{"d":58,"x":0.59,"y":7.0},{"d":58,"x":0.63,"y":7.0},{"d":58,"x":0.67,"y":7.0},{"d":58,"x":0.71,"y":7.5},{"d":58,"x":0.75,"y":8.0},{"d":58,"x":0.79,"y":8.0},{"d":58,"x":0.83,"y":7.5},{"d":58,"x":0.87,"y":6.5},{"d":58,"x":0.91,"y":6.0},{"d":58,"x":0.95,"y":6.0},
      {"d":59,"x":0.03,"y":4.0},{"d":59,"x":0.07,"y":6.5},{"d":59,"x":0.11,"y":9.0},{"d":59,"x":0.15,"y":11.0},{"d":59,"x":0.19,"y":12.0},{"d":59,"x":0.23,"y":12.5},{"d":59,"x":0.27,"y":12.5},{"d":59,"x":0.31,"y":11.5},{"d":59,"x":0.35,"y":10.0},{"d":59,"x":0.39,"y":8.5},{"d":59,"x":0.43,"y":7.5},{"d":59,"x":0.47,"y":7.0},{"d":59,"x":0.51,"y":7.0},{"d":59,"x":0.55,"y":7.5},{"d":59,"x":0.59,"y":8.0},{"d":59,"x":0.63,"y":8.5},{"d":59,"x":0.67,"y":9.0},{"d":59,"x":0.71,"y":9.0},{"d":59,"x":0.75,"y":8.5},{"d":59,"x":0.79,"y":7.5},{"d":59,"x":0.83,"y":6.0},{"d":59,"x":0.87,"y":4.5},{"d":59,"x":0.91,"y":3.5},{"d":59,"x":0.95,"y":3.0},
      {"d":60,"x":0.03,"y":2.5},{"d":60,"x":0.07,"y":6.5},{"d":60,"x":0.11,"y":10.0},{"d":60,"x":0.15,"y":12.5},{"d":60,"x":0.19,"y":13.5},{"d":60,"x":0.23,"y":13.0},{"d":60,"x":0.27,"y":11.5},{"d":60,"x":0.31,"y":9.5},{"d":60,"x":0.35,"y":8.5},{"d":60,"x":0.39,"y":8.0},{"d":60,"x":0.43,"y":7.5},{"d":60,"x":0.47,"y":6.5},{"d":60,"x":0.51,"y":5.5},{"d":60,"x":0.55,"y":5.5},{"d":60,"x":0.59,"y":6.0},{"d":60,"x":0.63,"y":7.0},{"d":60,"x":0.67,"y":7.5},{"d":60,"x":0.71,"y":7.5},{"d":60,"x":0.75,"y":7.0},{"d":60,"x":0.79,"y":6.5},{"d":60,"x":0.83,"y":5.5},{"d":60,"x":0.87,"y":4.0},{"d":60,"x":0.91,"y":3.0},{"d":60,"x":0.95,"y":2.5},
      {"d":61,"x":0.03,"y":6.0},{"d":61,"x":0.07,"y":8.0},{"d":61,"x":0.11,"y":10.0},{"d":61,"x":0.15,"y":11.5},{"d":61,"x":0.19,"y":12.5},{"d":61,"x":0.23,"y":12.5},{"d":61,"x":0.27,"y":11.5},{"d":61,"x":0.31,"y":10.5},{"d":61,"x":0.35,"y":10.0},{"d":61,"x":0.39,"y":9.5},{"d":61,"x":0.43,"y":9.0},{"d":61,"x":0.47,"y":8.5},{"d":61,"x":0.51,"y":8.0},{"d":61,"x":0.55,"y":7.5},{"d":61,"x":0.59,"y":7.0},{"d":61,"x":0.63,"y":7.0},{"d":61,"x":0.67,"y":7.5},{"d":61,"x":0.71,"y":8.0},{"d":61,"x":0.75,"y":8.0},{"d":61,"x":0.79,"y":7.5},{"d":61,"x":0.83,"y":6.5},{"d":61,"x":0.87,"y":5.0},{"d":61,"x":0.91,"y":4.0},{"d":61,"x":0.95,"y":4.0},
      {"d":62,"x":0.03,"y":3.5},{"d":62,"x":0.07,"y":7.0},{"d":62,"x":0.11,"y":10.5},{"d":62,"x":0.15,"y":12.5},{"d":62,"x":0.19,"y":13.0},{"d":62,"x":0.23,"y":12.5},{"d":62,"x":0.27,"y":11.5},{"d":62,"x":0.31,"y":10.5},{"d":62,"x":0.35,"y":9.5},{"d":62,"x":0.39,"y":8.5},{"d":62,"x":0.43,"y":7.5},{"d":62,"x":0.47,"y":6.5},{"d":62,"x":0.51,"y":6.0},{"d":62,"x":0.55,"y":6.0},{"d":62,"x":0.59,"y":6.5},{"d":62,"x":0.63,"y":7.5},{"d":62,"x":0.67,"y":8.0},{"d":62,"x":0.71,"y":8.0},{"d":62,"x":0.75,"y":7.5},{"d":62,"x":0.79,"y":6.5},{"d":62,"x":0.83,"y":5.0},{"d":62,"x":0.87,"y":3.5},{"d":62,"x":0.91,"y":2.5},{"d":62,"x":0.95,"y":2.0},
      {"d":63,"x":0.03,"y":5.5},{"d":63,"x":0.07,"y":8.5},{"d":63,"x":0.11,"y":11.5},{"d":63,"x":0.15,"y":13.0},{"d":63,"x":0.19,"y":13.0},{"d":63,"x":0.23,"y":12.0},{"d":63,"x":0.27,"y":10.5},{"d":63,"x":0.31,"y":9.5},{"d":63,"x":0.35,"y":9.0},{"d":63,"x":0.39,"y":8.5},{"d":63,"x":0.43,"y":8.0},{"d":63,"x":0.47,"y":7.5},{"d":63,"x":0.51,"y":7.5},{"d":63,"x":0.55,"y":7.5},{"d":63,"x":0.59,"y":7.5},{"d":63,"x":0.63,"y":7.5},{"d":63,"x":0.67,"y":7.5},{"d":63,"x":0.71,"y":7.5},{"d":63,"x":0.75,"y":7.5},{"d":63,"x":0.79,"y":7.5},{"d":63,"x":0.83,"y":7.0},{"d":63,"x":0.87,"y":6.5},{"d":63,"x":0.91,"y":6.0},{"d":63,"x":0.95,"y":6.0},
      {"d":64,"x":0.03,"y":1.0},{"d":64,"x":0.07,"y":5.0},{"d":64,"x":0.11,"y":9.0},{"d":64,"x":0.15,"y":12.0},{"d":64,"x":0.19,"y":13.0},{"d":64,"x":0.23,"y":12.5},{"d":64,"x":0.27,"y":11.5},{"d":64,"x":0.31,"y":10.5},{"d":64,"x":0.35,"y":10.0},{"d":64,"x":0.39,"y":9.0},{"d":64,"x":0.43,"y":8.0},{"d":64,"x":0.47,"y":7.0},{"d":64,"x":0.51,"y":6.5},{"d":64,"x":0.55,"y":6.5},{"d":64,"x":0.59,"y":7.0},{"d":64,"x":0.63,"y":7.0},{"d":64,"x":0.67,"y":7.0},{"d":64,"x":0.71,"y":7.0},{"d":64,"x":0.75,"y":7.0},{"d":64,"x":0.79,"y":6.5},{"d":64,"x":0.83,"y":5.5},{"d":64,"x":0.87,"y":4.0},{"d":64,"x":0.91,"y":2.5},{"d":64,"x":0.95,"y":1.5}
    ],
    "mean": [
      {"x":0.03,"y":4.2},{"x":0.05,"y":5.5},{"x":0.07,"y":6.9},{"x":0.09,"y":8.3},{"x":0.11,"y":9.6},{"x":0.13,"y":10.6},{"x":0.15,"y":11.3},{"x":0.17,"y":11.8},{"x":0.19,"y":12.2},{"x":0.21,"y":12.55},{"x":0.23,"y":12.5},{"x":0.25,"y":12.2},{"x":0.27,"y":11.8},{"x":0.29,"y":11.3},{"x":0.31,"y":10.9},{"x":0.33,"y":10.4},{"x":0.35,"y":10.15},{"x":0.37,"y":9.8},{"x":0.39,"y":9.3},{"x":0.41,"y":8.9},{"x":0.43,"y":8.4},{"x":0.45,"y":7.95},{"x":0.47,"y":7.6},{"x":0.49,"y":7.3},{"x":0.51,"y":7.1},{"x":0.53,"y":7.0},{"x":0.55,"y":7.0},{"x":0.57,"y":7.0},{"x":0.59,"y":7.05},{"x":0.61,"y":7.2},{"x":0.63,"y":7.35},{"x":0.65,"y":7.45},{"x":0.67,"y":7.5},{"x":0.69,"y":7.6},{"x":0.71,"y":7.6},{"x":0.73,"y":7.65},{"x":0.75,"y":7.55},{"x":0.77,"y":7.45},{"x":0.79,"y":7.2},{"x":0.81,"y":6.9},{"x":0.83,"y":6.4},{"x":0.85,"y":5.8},{"x":0.87,"y":5.1},{"x":0.89,"y":4.6},{"x":0.91,"y":4.25},{"x":0.93,"y":4.0},{"x":0.95,"y":4.0}
    ],
    "obs": [
      {"x":0.028,"y":0.15},{"x":0.125,"y":11.05},{"x":0.136,"y":14.43},{"x":0.212,"y":13.02},{"x":0.249,"y":16.8},{"x":0.25,"y":9.94},{"x":0.402,"y":11.29},{"x":0.433,"y":8.5},{"x":0.445,"y":7.31},{"x":0.46,"y":7.25},{"x":0.468,"y":7.43},{"x":0.463,"y":6.56},{"x":0.469,"y":8.8},{"x":0.509,"y":7.57},{"x":0.53,"y":9.25},{"x":0.534,"y":4.61},{"x":0.541,"y":4.97},{"x":0.564,"y":12.37},{"x":0.567,"y":3.83},{"x":0.604,"y":5.15},{"x":0.612,"y":6.11},{"x":0.635,"y":10.69},{"x":0.639,"y":9.1},{"x":0.665,"y":6.35},{"x":0.683,"y":5.81},{"x":0.7,"y":8.65},{"x":0.724,"y":8.86},{"x":0.821,"y":6.71},{"x":0.881,"y":3.14},{"x":0.946,"y":2.16}
    ]
  },
  "encoding": {
    "x": {
      "field": "x",
      "type": "quantitative",
      "title": "x2",
      "scale": {"domain": [-0.0164, 0.992], "nice": false, "zero": false},
      "axis": {
        "values": [0, 0.125, 0.25, 0.375, 0.5, 0.625, 0.75, 0.875],
        "labelExpr": "datum.value * 4 == round(datum.value * 4) ? format(datum.value, '.2f') : ''",
        "gridWidth": {"condition": {"test": "datum.value * 4 == round(datum.value * 4)", "value": 2.1}, "value": 1.1},
        "tickOpacity": {"condition": {"test": "datum.value * 4 == round(datum.value * 4)", "value": 1}, "value": 0},
        "labelPadding": 4,
        "titlePadding": 4
      }
    },
    "y": {
      "field": "y",
      "type": "quantitative",
      "title": "y",
      "scale": {"domain": [-4.49, 18.47], "nice": false, "zero": false},
      "axis": {
        "values": [-2.5, 0, 2.5, 5, 7.5, 10, 12.5, 15, 17.5],
        "labelExpr": "datum.value % 5 == 0 ? format(datum.value, 'd') : ''",
        "gridWidth": {"condition": {"test": "datum.value % 5 == 0", "value": 2.1}, "value": 1.1},
        "tickOpacity": {"condition": {"test": "datum.value % 5 == 0", "value": 1}, "value": 0},
        "labelPadding": 7,
        "titlePadding": 8
      }
    }
  },
  "layer": [
    {
      "data": {"name": "obs"},
      "mark": {"type": "circle", "color": "black", "opacity": 1, "size": 165}
    },
    {
      "data": {"name": "draws"},
      "mark": {"type": "line", "color": "#0000FF", "opacity": 0.27, "strokeWidth": 2, "interpolate": "monotone"},
      "encoding": {"detail": {"field": "d", "type": "nominal"}}
    },
    {
      "data": {"name": "mean"},
      "mark": {"type": "line", "color": "white", "opacity": 0.85, "strokeWidth": 4, "interpolate": "monotone"}
    }
  ]
}
